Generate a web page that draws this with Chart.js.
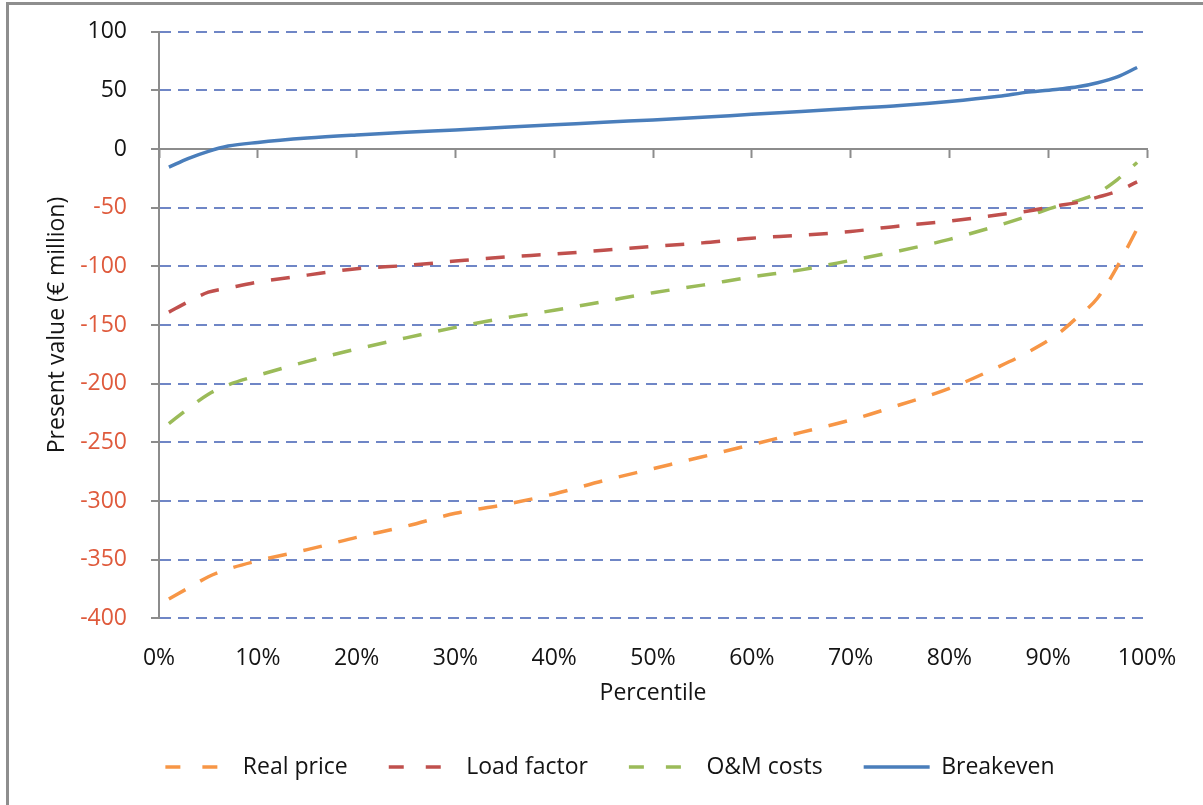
<!DOCTYPE html>
<html><head><meta charset="utf-8">
<script src="https://cdn.jsdelivr.net/npm/chart.js@4.4.1/dist/chart.umd.min.js"></script>
<style>
html,body{margin:0;padding:0;background:#fff;overflow:hidden;}
#wrap{position:relative;width:1203px;height:805px;overflow:hidden;}
#frame{position:absolute;left:6px;top:2px;width:1400px;height:1000px;border-left:3px solid #8e8e8e;border-top:3px solid #8e8e8e;}
canvas{position:absolute;left:0;top:0;}
</style></head><body>
<div id="wrap"><div id="frame"></div><canvas id="c" width="1203" height="805"></canvas></div>
<script>
// Percentile positions (x, in %)
const percentiles = [1, 3, 5, 7, 10, 15, 20, 25, 30, 35, 40, 45, 50, 55, 60, 65, 70, 75, 80, 85, 88, 91, 93, 95, 97, 99];
// Present values (€ million)
const realPrice  = [-383.5, -374, -364.6, -358, -351, -341.5, -331, -321.5, -310.5, -303, -294, -282.7, -272.5, -262.3, -252, -241.5, -231, -218, -204, -185.5, -173, -157.5, -143, -127, -100, -68];
const loadFactor = [-139, -130, -122, -118.5, -113.5, -107.5, -102, -99.3, -95.5, -92, -89.5, -86.3, -83, -80, -76, -73.5, -70.3, -65.5, -61.5, -56, -52.8, -48.3, -45.5, -41, -36, -28];
const omCosts    = [-234, -221, -209, -201, -193, -181, -170.5, -161, -152, -144, -137.5, -130, -122.5, -116, -109, -103, -95, -86.7, -77, -65, -57, -48.5, -44, -37.5, -26, -11.5];
const breakeven  = [-15.5, -8, -2, 2.5, 5.6, 9.3, 12, 14.3, 16.3, 18.5, 20.6, 22.8, 24.8, 27, 29.6, 32, 34.5, 37, 40.5, 45, 48.5, 51, 53, 56.5, 61.5, 69.5];
const seriesLabels = ['Real price', 'Load factor', 'O&M costs', 'Breakeven'];
const xTickValues = [0, 10, 20, 30, 40, 50, 60, 70, 80, 90, 100];
const yTickValues = [100, 50, 0, -50, -100, -150, -200, -250, -300, -350, -400];

const toXY = arr => arr.map((v, i) => ({x: percentiles[i], y: v}));
const FONT = "'Open Sans', sans-serif";
const TXT = '#141414';
const NEG = '#df5a3c';
const GRID = '#6f86c6';
const AXIS = '#8c8c8c';
const LEG_DASH = [15, 22, 15, 400];

new Chart(document.getElementById('c'), {
  type: 'line',
  data: {
    datasets: [
      {label: seriesLabels[0], data: toXY(realPrice), borderColor: '#f79646', backgroundColor: '#f79646', borderDash: [19, 17], borderWidth: 3.5},
      {label: seriesLabels[1], data: toXY(loadFactor), borderColor: '#c0504d', backgroundColor: '#c0504d', borderDash: [19, 17], borderWidth: 3.5},
      {label: seriesLabels[2], data: toXY(omCosts), borderColor: '#9bbb59', backgroundColor: '#9bbb59', borderDash: [19, 17], borderWidth: 3.5},
      {label: seriesLabels[3], data: toXY(breakeven), borderColor: '#4a7ebb', backgroundColor: '#4a7ebb', borderWidth: 3.5}
    ]
  },
  options: {
    responsive: false,
    animation: false,
    devicePixelRatio: 1,
    elements: {point: {radius: 0}, line: {cubicInterpolationMode: 'monotone', fill: false}},
    layout: {padding: {top: 31.7, left: 73, right: 56, bottom: 16.5}},
    plugins: {
      tooltip: {enabled: false},
      legend: {
        position: 'bottom',
        align: 'center',
        labels: {
          font: {family: FONT, size: 23},
          color: TXT,
          boxWidth: 66,
          boxHeight: 0,
          padding: 41,
          generateLabels: chart => {
            const items = Chart.defaults.plugins.legend.labels.generateLabels(chart);
            items.forEach((it, i) => { if (i < 3) it.lineDash = LEG_DASH; it.lineDashOffset = 0; });
            return items;
          }
        }
      }
    },
    scales: {
      x: {
        type: 'linear', position: 'bottom', min: 0, max: 100,
        afterBuildTicks: s => { s.ticks = xTickValues.map(v => ({value: v})); },
        afterFit: s => { s.height = 96.2; },
        grid: {display: false, drawTicks: false},
        border: {display: false},
        ticks: {padding: 26, color: TXT, font: {family: FONT, size: 23}, maxRotation: 0, autoSkip: false, callback: v => v + '%'},
        title: {display: true, text: 'Percentile', color: TXT, font: {family: FONT, size: 23}, padding: {top: 0, bottom: 7.7}}
      },
      x2: {
        type: 'linear', axis: 'x', position: {y: 0}, min: 0, max: 100,
        afterBuildTicks: s => { s.ticks = xTickValues.map(v => ({value: v})); },
        ticks: {display: false},
        grid: {display: true, drawOnChartArea: false, drawTicks: true, tickLength: 8, tickColor: AXIS, tickWidth: 2},
        border: {display: true, color: AXIS, width: 2}
      },
      y: {
        type: 'linear', position: 'left', min: -400, max: 100,
        afterBuildTicks: s => { s.ticks = yTickValues.map(v => ({value: v})); },
        afterFit: s => { s.width = 86; s.paddingTop = 0; s.paddingBottom = 0; },
        grid: {
          color: c => (c.tick && c.tick.value === 0) ? 'rgba(0,0,0,0)' : GRID,
          lineWidth: 2, tickLength: 8, tickColor: AXIS, tickWidth: 2
        },
        border: {display: true, color: AXIS, width: 2, dash: [11, 7]},
        ticks: {
          padding: 24, autoSkip: false,
          color: c => (c.tick && c.tick.value < 0) ? NEG : TXT,
          font: {family: FONT, size: 23},
          callback: v => String(v)
        },
        title: {display: true, text: 'Present value (€ million)', color: TXT, font: {family: FONT, size: 23}, padding: {top: -29.8, bottom: 0}}
      }
    }
  }
});
</script>
</body></html>
